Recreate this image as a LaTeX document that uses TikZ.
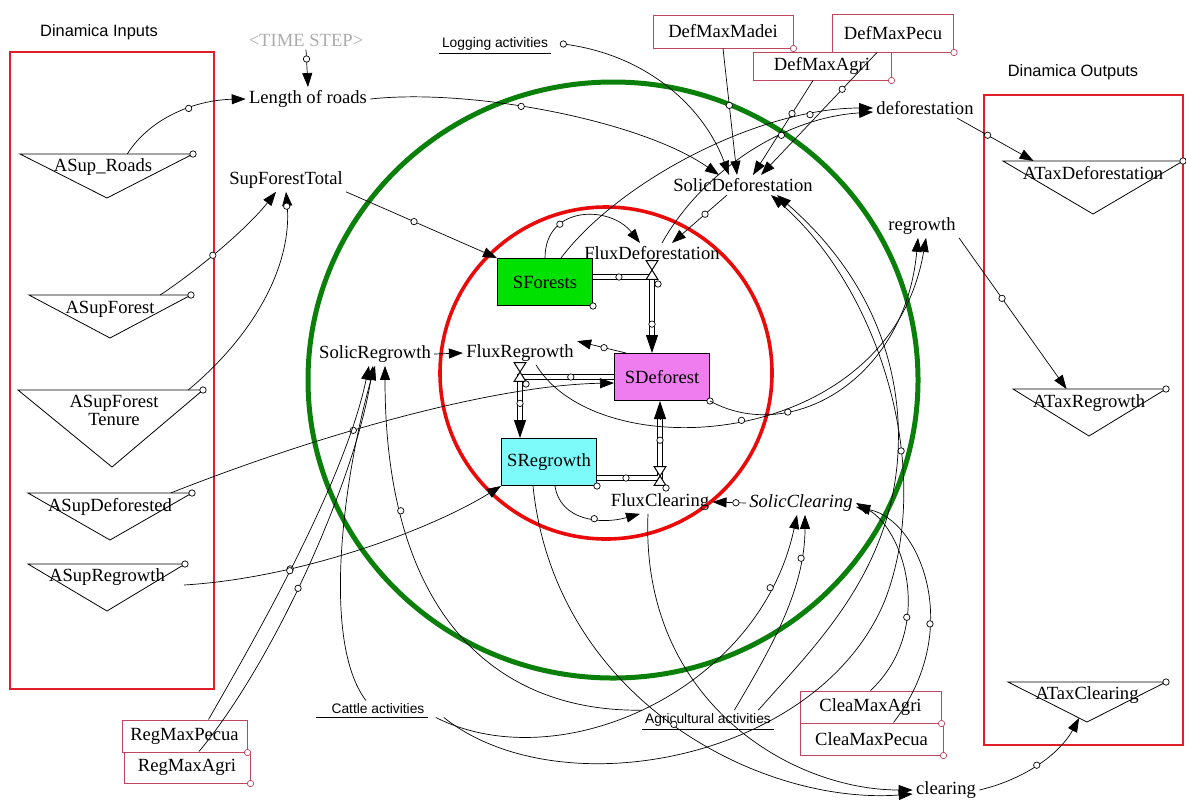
\documentclass[tikz,border=0pt]{standalone}
\usepackage{fontspec}
\setmainfont{Liberation Serif}
\newfontfamily\arialf{Liberation Sans}
\usetikzlibrary{calc,arrows.meta}
\definecolor{parcol}{RGB}{190,70,95}
\definecolor{boxred}{RGB}{225,30,40}
\definecolor{ringgreen}{RGB}{10,128,10}
\definecolor{ringred}{RGB}{235,10,10}
\definecolor{forestfill}{RGB}{0,225,0}
\definecolor{deforfill}{RGB}{240,125,240}
\definecolor{regrfill}{RGB}{125,250,250}

\begin{document}
\begin{tikzpicture}[x=0.5pt, y=-0.5pt,
lbl/.style={font=\fontsize{9.3}{10}\selectfont, inner sep=1.5pt},
ttl/.style={font=\arialf\fontsize{8.2}{10}\selectfont},
act/.style={font=\arialf\fontsize{6.9}{8}\selectfont, inner sep=1.5pt},
stk/.style={lbl, draw, line width=0.5pt, minimum width=47.5pt, minimum height=23.5pt, inner sep=0},
par/.style={lbl, draw=parcol, line width=0.5pt, inner sep=0},
hd/.style={circle, draw, fill=white, minimum size=3.2pt, inner sep=0, line width=0.35pt},
arr/.style={-{Triangle[length=7pt,width=5pt]}, line width=0.35pt},
pipe/.style={double=white, double distance=2pt, line width=0.45pt},
pipetip/.style={-{Triangle[length=9pt,width=6pt]}, line width=0.45pt},
valve/.style={minimum width=5.5pt, minimum height=9pt, inner sep=0},
redbox/.style={draw=boxred, line width=1pt}]
\useasboundingbox (0,0) rectangle (1186,810);

% rings
\draw[ringgreen, line width=2.5pt] (613,380) ellipse [x radius=305, y radius=298];
\draw[ringred, line width=1.8pt] (606,373) circle [radius=166];

% Dinamica inputs / outputs
\node[ttl] (inTitle) at (99,32) {Dinamica Inputs};
\node[ttl] (outTitle) at (1073,72) {Dinamica Outputs};
\draw[redbox] (10,52) rectangle (214,689);
\draw[redbox] (984,95) rectangle (1183,745);

\draw (20,154) -- coordinate[pos=.62] (rdsTop) (193,154) node[hd] (triH1) {} -- (107,198) -- cycle;
\draw (29,295) -- coordinate[pos=.81] (sfTop) (191,295) node[hd] (triH2) {} -- (110,338) -- cycle;
\draw (18,390) -- coordinate[pos=.92] (tenTop) (203,390) node[hd] (triH3) {} -- (112,467) -- cycle;
\draw (28,493) -- coordinate[pos=.87] (sdTop) (192,493) node[hd] (triH4) {} -- (110,540) -- cycle;
\draw (28,564) -- (185,564) node[hd] (triH5) {} -- (107,611) -- cycle;
\coordinate (srOut) at (184,585);
\draw (1003,161) -- coordinate[pos=.17] (atdIn) (1183,161) node[hd] (triH6) {} -- (1093,214) -- cycle;
\draw (1013,389) -- coordinate[pos=.35] (atrIn) (1166,389) node[hd] (triH7) {} -- (1089,436) -- cycle;
\draw (1087,722) -- coordinate[pos=.1] (atcIn) (1008,682) -- (1166,682) node[hd] (triH8) {} -- cycle;

\node[lbl] (ASupRoads) at (103,167) {ASup\_Roads};
\node[lbl] (ASupForest) at (110,309) {ASupForest};
\node[lbl, align=center, font=\fontsize{9.3}{6.8}\selectfont] (ASupTenure) at (114,410) {ASupForest\\Tenure};
\node[lbl] (ASupDeforested) at (110,507) {ASupDeforested};
\node[lbl] (ASupRegrowth) at (107,577) {ASupRegrowth};
\node[lbl] (ATaxDeforestation) at (1093,173) {ATaxDeforestation};
\node[lbl] (ATaxRegrowth) at (1089,403) {ATaxRegrowth};
\node[lbl] (ATaxClearing) at (1087,695) {ATaxClearing};

% variables
\node[lbl, text=gray!65] (timestep) at (306,40) {<TIME STEP>};
\node[lbl] (roads) at (308,99) {Length of roads};
\node[lbl] (supTotal) at (286,180) {SupForestTotal};
\node[lbl] (solicDef) at (743,185) {SolicDeforestation};
\node[lbl] (deforestation) at (925,108) {deforestation};
\node[lbl] (regrowth) at (922,226) {regrowth};
\node[lbl] (solicReg) at (375,354) {SolicRegrowth};
\node[lbl] (fluxDef) at (652,253) {FluxDeforestation};
\node[lbl] (fluxReg) at (520,353) {FluxRegrowth};
\node[lbl] (fluxClear) at (660,502) {FluxClearing};
\node[lbl, font=\fontsize{9.3}{10}\selectfont\itshape] (solicClear) at (801,503) {SolicClearing};
\node[lbl] (clearing) at (946,790) {clearing};
\node[act] (logging) at (495,44) {Logging activities};
\node[act] (cattle) at (378,709) {Cattle activities};
\node[act] (agri) at (708,720) {Agricultural activities};
\draw[line width=0.5pt] (logging.south west) -- (logging.south east);
\draw[line width=0.5pt] ([xshift=-6pt]cattle.south west) -- (cattle.south east);
\draw[line width=0.5pt] (agri.south west) -- (agri.south east);

% parameters
\node[par, minimum width=70pt, minimum height=16.5pt] (DefMaxMadei) at (723,31.5) {DefMaxMadei};
\node[par, minimum width=60.5pt, minimum height=19pt] (DefMaxPecu) at (893,33) {DefMaxPecu};
\node[par, minimum width=69pt, minimum height=14pt] (DefMaxAgri) at (822,66) {DefMaxAgri};
\node[par, minimum width=62.5pt, minimum height=16pt] (RegMaxPecua) at (184.5,736) {RegMaxPecua};
\node[par, minimum width=63pt, minimum height=15.5pt] (RegMaxAgri) at (187,767.5) {RegMaxAgri};
\node[par, minimum width=70.5pt, minimum height=16pt] (CleaMaxAgri) at (870.5,707) {CleaMaxAgri};
\node[par, minimum width=71.5pt, minimum height=16pt] (CleaMaxPecua) at (871.5,739) {CleaMaxPecua};
\foreach \p in {DefMaxMadei,DefMaxPecu,DefMaxAgri,RegMaxPecua,RegMaxAgri,CleaMaxAgri,CleaMaxPecua}
  \node[hd, draw=parcol] (\p H) at (\p.south east) {};

% stocks and flows
\node[stk, fill=forestfill] (SForests) at (545,282) {SForests};
\node[stk, fill=deforfill] (SDeforest) at (662,377) {SDeforest};
\node[stk, fill=regrfill] (SRegrowth) at (549,462) {SRegrowth};
\foreach \s in {SForests,SDeforest,SRegrowth}
  \node[hd] (\s H) at (\s.south east) {};
\node[valve] (vDef) at (652,270) {};
\node[valve] (vReg) at (520,372) {};
\node[valve] (vClear) at (660,476) {};

\draw[pipe] ([yshift=2.5pt]SForests.east) -| ($(vDef |- SDeforest.north)+(0,-14)$)
  node[hd, pos=.22] (pH1) {} node[hd, pos=.88] (pH2) {};
\draw[pipetip] ($(vDef |- SDeforest.north)+(0,-18)$) -- (vDef |- SDeforest.north);
\draw[pipe] (SDeforest.west) -| ($(vReg |- SRegrowth.north)+(0,-14)$)
  node[hd, pos=.23] (pH3) {} node[hd, pos=.78] (pH4) {};
\draw[pipetip] ($(vReg |- SRegrowth.north)+(0,-18)$) -- (vReg |- SRegrowth.north);
\draw[pipe] ([yshift=-8pt]SRegrowth.east) -| ($(vClear |- SDeforest.south)+(0,14)$)
  node[hd, pos=.23] (pH5) {} node[hd, pos=.8] (pH6) {};
\draw[pipetip] ($(vClear |- SDeforest.south)+(0,18)$) -- (vClear |- SDeforest.south);
\foreach \v in {vDef,vReg,vClear}
  \filldraw[fill=white, line width=0.5pt] (\v.north west) -- (\v.south east) -- (\v.south west) -- (\v.north east) -- cycle;
\node[hd] (vDefH) at ([shift={(3pt,-7pt)}]vDef) {};
\node[hd] (vRegH) at ([shift={(3pt,-6pt)}]vReg) {};
\node[hd] (vClearH) at ([shift={(3pt,-6pt)}]vClear) {};

% connectors
\draw[arr] (rdsTop) .. controls (150,118) and (195,100) .. (roads.west) node[hd, pos=.6] (h1) {};
\draw[arr] (timestep.south) -- (roads.north) node[hd, pos=.25] (h2) {};
\draw[arr] (roads.east) .. controls (470,88) and (640,120) .. ([xshift=-12pt]solicDef.north) node[hd, pos=.42] (h3) {};
\draw[arr] ([xshift=6pt]logging.east) node[hd] (h4) {} .. controls (650,55) and (705,110) .. ([xshift=-7pt]solicDef.north);
\draw[arr] (DefMaxMadei.south) -- ([xshift=-3pt]solicDef.north) node[hd, pos=.45] (h5) {};
\draw[arr] ([xshift=-4.5pt]DefMaxAgri.south) -- ([xshift=5pt]solicDef.north) node[hd, pos=.35] (h6) {};
\draw[arr] ([xshift=-8pt]DefMaxPecu.south) -- ([xshift=9pt]solicDef.north) node[hd, pos=.3] (h7) {};
\draw[arr] ([xshift=8pt]SForests.north) .. controls (620,180) and (760,108) .. (deforestation.west) node[hd, pos=.82] (h8) {};
\draw[arr] ([xshift=5pt]fluxDef.north) .. controls (700,175) and (780,118) .. ([yshift=-2pt]deforestation.west) node[hd, pos=.65] (h9) {};
\draw[arr] ([xshift=-8pt]solicDef.south) -- ([xshift=10pt]fluxDef.north) node[hd, pos=.4] (h10) {};
\draw[arr] (SForests.north) .. controls (545,205) and (610,205) .. ([xshift=-6pt]fluxDef.north) node[hd, pos=.3] (h11) {};
\draw[arr] (supTotal.south east) -- (SForests.north west) node[hd, pos=.45] (h12) {};
\draw[arr] (sfTop) .. controls (205,265) and (250,225) .. ([xshift=-5pt]supTotal.south) node[hd, pos=.4] (h13) {};
\draw[arr] (tenTop) .. controls (260,330) and (292,260) .. (supTotal.south) node[hd, pos=.93] (h14) {};
\draw[arr] (sdTop) .. controls (330,430) and (500,385) .. ([yshift=-3pt]SDeforest.west) node[hd, pos=.38] (h15) {};
\draw[arr] (srOut) .. controls (300,578) and (430,530) .. (SRegrowth.south west) node[hd, pos=.3] (h16) {};
\draw[arr] (solicReg.east) -- (fluxReg.west);
\draw[arr] ([xshift=-18pt]SDeforest.north) -- (fluxReg.north east) node[hd, pos=.45] (h18) {};
\draw[arr] ([xshift=3pt]SRegrowth.south) .. controls (560,520) and (600,525) .. ([xshift=-10pt]fluxClear.south) node[hd, pos=.6] (h19) {};
\draw[arr] (solicClear.west) -- (fluxClear.east) node[hd, pos=.3] (h20) {};
\draw[arr] (SDeforest.south east) .. controls (790,445) and (905,380) .. ([xshift=-2pt]regrowth.south) node[hd, pos=.3] (h21) {};
\draw[arr] ([xshift=8pt]fluxReg.south) .. controls (600,470) and (890,450) .. ([xshift=2pt]regrowth.south) node[hd, pos=.5] (h22) {};
\draw[arr] (regrowth.south east) -- (atrIn) node[hd, pos=.4] (h23) {};
\draw[arr] ([xshift=-10pt]deforestation.south east) -- (atdIn) node[hd, pos=.4] (h24) {};
\draw[arr] (clearing.east) .. controls (1030,778) and (1062,750) .. (atcIn) node[hd, pos=.45] (h25) {};
\draw[arr] ([xshift=-8pt]SRegrowth.south) .. controls (555,700) and (760,805) .. ([yshift=-2pt]clearing.west) node[hd, pos=.5] (h26) {};
\draw[arr] ([xshift=-6pt]fluxClear.south) .. controls (640,700) and (790,790) .. (clearing.west);
\draw[arr] ([xshift=8pt]cattle.south east) .. controls (560,810) and (820,760) .. (885,600)
  .. controls (935,470) and (880,290) .. ([xshift=14pt]solicDef.south) node[hd, pos=.35] (h28) {};
\draw[arr] ([xshift=-8pt]agri.north east) .. controls (820,640) and (905,560) .. (898,420)
  .. controls (892,320) and (840,250) .. ([xshift=17pt]solicDef.south);
\draw[arr] ([xshift=4pt]cattle.south east) .. controls (560,780) and (760,690) .. ([xshift=-2pt]solicClear.south) node[hd, pos=.85] (h30) {};
\draw[arr] ([xshift=-20pt]agri.north east) .. controls (770,650) and (805,590) .. ([xshift=2pt]solicClear.south) node[hd, pos=.8] (h31) {};
\draw[arr] (CleaMaxAgri.north) .. controls (935,630) and (905,530) .. (solicClear.east) node[hd, pos=.35] (h32) {};
\draw[arr] ([xshift=11pt]CleaMaxPecua.north) .. controls (965,630) and (920,520) .. ([yshift=-2pt]solicClear.east) node[hd, pos=.35] (h33) {};
\draw[arr] (agri.north west) .. controls (500,712) and (385,620) .. ([xshift=5pt]solicReg.south) node[hd, pos=.78] (h34) {};
\draw[arr] ([xshift=-6pt]cattle.north) .. controls (320,640) and (345,470) .. (solicReg.south);
\draw[arr] ([xshift=12pt]RegMaxPecua.north) .. controls (260,630) and (345,480) .. ([xshift=-3pt]solicReg.south) node[hd, pos=.45] (h36) {};
\draw[arr] ([xshift=6pt]RegMaxAgri.north) .. controls (275,660) and (355,480) .. ([xshift=-1pt]solicReg.south) node[hd, pos=.45] (h37) {};
\end{tikzpicture}
\end{document}
